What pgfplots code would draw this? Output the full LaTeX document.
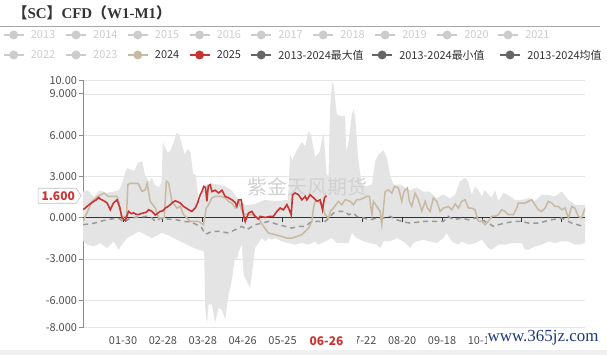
\documentclass[border=0pt]{standalone}
\usepackage{pgfplots}
\pgfplotsset{compat=1.18}
\usepgfplotslibrary{fillbetween}
\usepackage{fontspec}
\setmainfont{Noto Sans CJK SC}
\newfontfamily\serifb{Liberation Serif}
\definecolor{redline}{HTML}{C93432}
\definecolor{tanc}{HTML}{C8B9A3}
\definecolor{dis}{HTML}{CCCCCC}
\definecolor{dk}{HTML}{666666}
\definecolor{txt}{HTML}{333333}
\definecolor{navyc}{HTML}{1F3A7A}
\definecolor{band}{HTML}{E4E4E4}
\definecolor{meanc}{HTML}{999999}
\newcommand\legfont{\fontsize{11}{13}\selectfont}
\newcommand\legitem[5]{%
  \draw[#3, line width=1.5] (#1-10,-#2) -- (#1+10,-#2);
  \fill[#3] (#1,-#2) circle (4.5);
  \node[anchor=west, inner sep=0, text=#5, font=\legfont] at (#1+17,-#2) {#4};
}
\begin{document}
\begin{tikzpicture}[x=1bp,y=1bp]
\path (0,0) rectangle (607,-355);
% title
\node[anchor=west, inner sep=0, text=txt] at (12,-13) {\fontsize{15}{18}\selectfont\bfseries 【{\serifb\bfseries SC}】{\serifb\bfseries CFD}（{\serifb\bfseries W1-M1}）};
\draw[black!35, line width=0.8] (0,-26) -- (600,-26);
% legend
\legitem{13.3}{35}{dis}{2013}{dis}
\legitem{75.7}{35}{dis}{2014}{dis}
\legitem{137.5}{35}{dis}{2015}{dis}
\legitem{199.3}{35}{dis}{2016}{dis}
\legitem{261}{35}{dis}{2017}{dis}
\legitem{323}{35}{dis}{2018}{dis}
\legitem{385}{35}{dis}{2019}{dis}
\legitem{447}{35}{dis}{2020}{dis}
\legitem{508}{35}{dis}{2021}{dis}
\legitem{13.3}{55}{dis}{2022}{dis}
\legitem{75.7}{55}{dis}{2023}{dis}
\legitem{137.5}{55}{tanc}{2024}{txt}
\legitem{199.3}{55}{redline}{2025}{txt}
\legitem{261}{55}{dk}{2013-2024最大值}{txt}
\legitem{382}{55}{dk}{2013-2024最小值}{txt}
\legitem{510}{55}{dk}{2013-2024均值}{txt}
\begin{axis}[
  at={(82.8bp,-328bp)}, anchor=south west,
  scale only axis, width=502.2bp, height=247.8bp,
  xmin=0, xmax=365, ymin=-8, ymax=10,
  axis y line*=left, axis x line*=bottom,
  x axis line style={draw=none},
  y axis line style={draw=black!45, line width=1bp},
  ytick={-8,-6,-3,0,3,6,9,10},
  yticklabels={-8.000,-6.000,-3.000,0.000,3.000,6.000,9.000,10.00},
  xtick={29,58,87,116,145,203,232,261,290},
  xticklabels={01-30,02-28,03-28,04-26,05-25,07-22,08-20,09-18,10-17},
  ymajorgrids, grid style={draw=black!10, line width=0.8bp},
  tick label style={font=\fontsize{11}{13}\selectfont, text=black!70},
  yticklabel style={anchor=east, inner sep=0pt, xshift=-2bp},
  xticklabel style={anchor=base, inner sep=0pt, yshift=-13bp},
  xtick style={draw=none},
  ytick style={draw=black!45, line width=1bp},
  tick align=outside, major tick length=4bp,
  clip=true,
]
\addplot[draw=none, name path=max] coordinates {(0,1.9)(3,2.0)(8,1.5)(12,2.0)(17,1.8)(22,1.9)(26,2.0)(28,2.4)(31,3.4)(32,3.6)(35,3.5)(37,3.4)(40,4.0)(43,4.1)(45,3.1)(48,2.6)(50,2.9)(52,2.4)(55,2.2)(57,2.6)(58,5.5)(61,4.8)(63,4.8)(66,5.5)(68,6.2)(70,6.0)(72,5.2)(74,4.6)(76,5.0)(78,4.8)(80,3.2)(82,3.1)(84,1.2)(86,1.4)(87.5,2.4)(89,2.4)(93.6,2.5)(103,2.3)(108,2.0)(113,1.3)(118,0.9)(125,1.0)(132,1.3)(140,1.2)(149,1.3)(150.6,4.6)(152,4.2)(156,5.0)(159,5.5)(161.5,5.2)(164,6.3)(166,5.9)(168.7,4.4)(172,4.8)(174.8,6.2)(176,4.6)(177,3.2)(178.4,3.0)(179.6,8.0)(181,9.8)(182,9.8)(184.5,7.5)(187,7.4)(190.5,7.4)(191.3,4.8)(193,5.5)(195.4,7.5)(196.6,7.9)(197.8,7.4)(200,4.3)(202.7,2.4)(206,2.3)(210,2.4)(212.4,4.1)(214.8,4.6)(218.4,4.9)(220.8,4.4)(223.3,3.1)(225.7,2.4)(230.5,2.4)(237.8,2.0)(242.6,2.2)(247.5,1.9)(252,1.9)(257,1.4)(262,1.7)(267,1.4)(270.5,1.67)(274,2.64)(278,2.9)(280,2.64)(282.6,1.67)(285,2.28)(287.5,2.0)(290,1.55)(292,2.0)(295,1.67)(297,1.43)(299.6,2.0)(302,1.2)(305.6,1.8)(309,1.67)(314,1.3)(319,1.3)(324,1.43)(328.6,1.2)(333.5,1.67)(338,1.67)(343,1.55)(348,1.9)(353,1.3)(358,0.94)(365,0.94)};
\addplot[draw=none, name path=min] coordinates {(0,-1.7)(3,-1.96)(7.7,-2.08)(12.5,-1.84)(17.4,-2.2)(22.2,-1.72)(25.8,-2.32)(28.2,-1.96)(31.9,-1.48)(36.7,-1.23)(40.4,-1.0)(45.2,-1.23)(50,-1.48)(55,-1.23)(57.3,-1.1)(61,-1.23)(65.8,-1.48)(70.6,-1.72)(75.5,-1.96)(80.3,-2.2)(84,-2.32)(88,-2.45)(88.8,-6.5)(90,-7.8)(91.2,-6.3)(93.6,-6.3)(96,-7.65)(98.5,-6.56)(101,-6.7)(103.3,-7.4)(105.7,-5.6)(108.2,-4.5)(110.6,-2.8)(111.8,-3.2)(113,-2.45)(115.5,-1.96)(116.7,-4.14)(119,-4.62)(121.5,-5.1)(122.7,-4.14)(125,-2.2)(127.5,-1.84)(130,-1.48)(132.4,-1.72)(134.8,-1.48)(137.3,-1.6)(139.7,-1.48)(144.5,-1.72)(149.4,-1.84)(154.2,-1.96)(159,-1.84)(163.9,-1.96)(168.7,-1.72)(171,-1.96)(176,-1.72)(181,-1.48)(184.5,-1.84)(189.3,-1.84)(193,-1.84)(195.4,-1.11)(199,-1.48)(204,-1.72)(208.7,-1.84)(213.6,-1.96)(216,-2.2)(218.4,-1.72)(223.3,-1.72)(228.1,-1.48)(233,-1.72)(237.8,-2.2)(240.2,-1.84)(242.6,-1.72)(247.5,-1.6)(252.3,-1.72)(257.2,-1.84)(262,-1.48)(264.4,-1.11)(268,-1.72)(272.7,-1.96)(275.3,-1.72)(280.2,-1.96)(285,-1.84)(289.9,-1.6)(294.7,-2.2)(297.1,-2.32)(302,-1.96)(306.8,-1.96)(311.7,-1.84)(319,-1.84)(321.4,-2.32)(323.8,-2.32)(328.6,-2.08)(333.5,-1.96)(338.3,-1.72)(343.2,-1.84)(348,-1.72)(352.9,-1.72)(357.7,-1.96)(360.1,-1.96)(365,-1.84)};
\addplot[band, draw=none] fill between[of=max and min];
\node[text=black!18, font=\fontsize{20}{22}\selectfont] at (axis cs:163,2.25) {紫金天风期货};
\draw[black!80, line width=1bp] (axis cs:0,0) -- (axis cs:365,0);
\pgfplotsinvokeforeach{29,58,87,116,145,174,203,232,261,290,319,348}{
  \draw[black!80, line width=0.8bp] (axis cs:#1,0) -- ([yshift=-4bp]axis cs:#1,0);
}
\addplot[meanc, line width=1.5bp, dash pattern=on 5bp off 4bp] coordinates {(0,-0.5)(5,-0.45)(10,-0.35)(15,-0.2)(20,-0.1)(24.6,-0.02)(27,-0.1)(29.5,-0.35)(34.3,-0.02)(40,0.05)(46.4,0.1)(50,0.0)(52.5,-0.27)(56,-0.05)(62,-0.1)(68,-0.15)(73,-0.27)(78,-0.3)(82.7,-0.51)(86,-0.7)(89,-1.2)(93.6,-1.0)(98.5,-0.99)(102,-1.05)(105.7,-1.1)(110.6,-0.87)(115.5,-0.63)(119,-0.87)(125,-0.51)(130,-0.39)(134.8,-0.27)(142,-0.51)(147,-0.63)(151.8,-0.75)(156.6,-0.63)(161.5,-0.63)(166.3,-0.27)(171,-0.27)(176,-0.27)(179,0.0)(182,0.34)(184.5,0.46)(190.5,0.46)(193,0.22)(196.6,0.34)(199,0.1)(203.9,-0.02)(208.7,-0.15)(213.6,-0.02)(218.4,-0.02)(223.3,0.1)(228.1,-0.15)(233,-0.3)(237.8,-0.39)(242.6,-0.33)(247.5,-0.27)(252.3,-0.27)(262,-0.27)(265.6,0.1)(269.3,-0.15)(275.3,-0.02)(280.2,-0.15)(285,-0.02)(289.9,-0.15)(294.7,-0.39)(298.4,-0.63)(302,-0.51)(306.8,-0.39)(312.9,-0.27)(319,-0.27)(323.8,-0.39)(331.1,-0.39)(335.9,-0.27)(340.8,-0.15)(348,-0.02)(355.3,-0.39)(363.8,-0.63)(365,-0.6)};
\addplot[tanc, line width=1.5bp] coordinates {(0,-0.27)(3,0.4)(6.4,1.19)(10,1.5)(15,1.79)(18.5,1.55)(24.6,1.55)(25.8,1.19)(28.2,-0.02)(30,0.1)(31.5,0.1)(32.5,2.4)(34,2.5)(36.7,2.5)(40,2.5)(42.8,1.91)(45.2,2.03)(46.5,2.5)(48.8,1.19)(52.5,0.7)(55,-0.02)(59,0.0)(60.5,2.64)(62.2,2.52)(64.6,1.19)(68.2,0.7)(70.6,0.82)(73,0.22)(77.9,-0.27)(84,-0.27)(87.6,-0.51)(89.5,0.7)(91.2,0.94)(93.6,1.43)(96,1.55)(101,1.55)(103.3,1.43)(105.7,1.19)(108.2,1.06)(110.6,0.7)(113,1.19)(115.5,0.5)(117.9,0.22)(122.7,0.22)(127.5,-0.02)(131.2,-0.63)(134.8,-1.11)(139.7,-1.23)(144.5,-1.36)(148.2,-1.48)(151.8,-1.48)(155.4,-1.36)(159,-1.23)(161.5,-0.99)(163.9,-0.75)(166.3,-0.27)(167.5,0.7)(168.7,1.19)(171.1,1.19)(173.5,0.94)(176,0.22)(178.4,-0.02)(180,0.5)(182,0.7)(185.7,1.19)(188.1,0.94)(190.5,1.31)(194.2,1.19)(196.6,0.94)(199,1.31)(201.4,1.31)(203.9,1.43)(206.3,1.55)(208.2,1.55)(210,0.22)(211.1,1.19)(213.6,0.82)(216,0.46)(217.2,-0.51)(218.4,0.7)(219.6,1.91)(222,2.03)(224.5,1.79)(226.4,2.28)(229.3,2.16)(231.7,1.19)(233.4,1.91)(235.8,2.16)(237.3,1.19)(239,0.82)(241.4,1.79)(243.8,1.31)(246.3,0.46)(248.7,1.19)(250.4,0.7)(252.3,0.46)(254.7,1.43)(257.2,1.19)(259.6,0.46)(262,0.7)(265.6,0.82)(268.1,0.58)(270.5,1.0)(272.9,0.7)(275.3,1.19)(277.8,1.31)(280.2,0.7)(282.6,0.7)(285,0.58)(287.5,-0.27)(289.9,-0.27)(292.3,-0.51)(294.7,-0.27)(297.1,0.1)(299.6,0.1)(302,0.22)(304.4,0.58)(306.8,0.46)(309.3,0.22)(312.9,0.22)(315.3,0.7)(316.5,1.06)(319,1.06)(321.4,1.06)(323.8,1.19)(326.2,1.31)(328.6,0.94)(331.1,0.58)(333.5,0.46)(335.9,0.7)(338.3,1.19)(340.8,1.06)(343.2,0.82)(345.6,0.82)(348,0.58)(350.5,0.7)(352.9,-0.02)(355.3,0.82)(357.7,0.7)(360.1,0.1)(362.5,-0.02)(365,0.7)};
\addplot[redline, line width=1.6bp] coordinates {(0,0.6)(1.5,0.7)(2.8,0.82)(5,1.0)(7.6,1.18)(9.5,1.3)(11.3,1.47)(12.5,1.35)(13.7,1.3)(15.5,1.2)(17.4,1.07)(19.8,0.58)(22,1.07)(24.6,1.3)(26.5,0.8)(28.3,-0.02)(30.7,-0.2)(33,0.46)(35,0.3)(36.7,0.35)(38.5,0.25)(40.3,0.23)(42,0.3)(44,0.35)(46,0.4)(47.6,0.58)(50,0.46)(52.5,0.2)(54,0.3)(56,0.46)(58,0.5)(59.7,0.7)(61.5,0.8)(63.4,0.95)(65,1.1)(67,1.23)(69,1.15)(70.6,1.07)(73,0.82)(75,0.7)(76.7,0.58)(79,0.46)(81.5,0.7)(83.2,1.07)(85.2,1.67)(86.4,1.9)(87.6,2.27)(89,2.2)(90,1.2)(91,2.3)(92.4,2.4)(93.7,1.9)(96,2.0)(98.5,1.8)(101,2.0)(103.3,1.55)(105.7,1.45)(108.2,1.3)(110.6,1.1)(111.8,0.82)(113,1.3)(115,1.3)(116.6,0.2)(117.9,-0.27)(120.3,0.35)(122.7,0.46)(125.1,0.1)(127.5,-0.1)(128.8,0.1)(132.4,0.02)(136,0.1)(138.4,0.1)(140.9,0.46)(143.3,0.7)(145.7,0.58)(148.2,0.95)(149.9,0.58)(151.3,0.2)(152.3,1.67)(154.2,1.8)(156.6,1.67)(159.1,1.3)(161.5,1.55)(162.7,1.3)(165.1,1.67)(167.5,1.45)(170,1.2)(172.4,1.3)(174.1,0.58)(175.5,1.45)(176.5,1.55)(177,1.6)};
\coordinate (p) at (axis cs:177,-8);
\coordinate (q) at (axis cs:0,1.6);
\end{axis}
% pointer labels
\node[fill=white, inner sep=0pt, minimum width=60bp, minimum height=16bp, text=redline, font=\fontsize{12}{14}\selectfont\bfseries] at ([yshift=-13bp]p) {06-26};
\draw[fill=white, draw=black!25, line width=0.6] (q) ++(-2,0) -- ++(-5,7.5) -- ++(-38,0) -- ++(0,-15) -- ++(38,0) -- cycle;
\node[text=redline, font=\fontsize{12}{14}\selectfont\bfseries, inner sep=0] at ([xshift=-25bp]q) {1.600};
% watermark
\fill[black!6] (0,-350) rectangle (607,-355);
\node[fill=white, inner sep=1pt, text=navyc, font=\serifb\fontsize{17}{19}\selectfont] at (543,-338) {www.365jz.com};
\end{tikzpicture}
\end{document}
